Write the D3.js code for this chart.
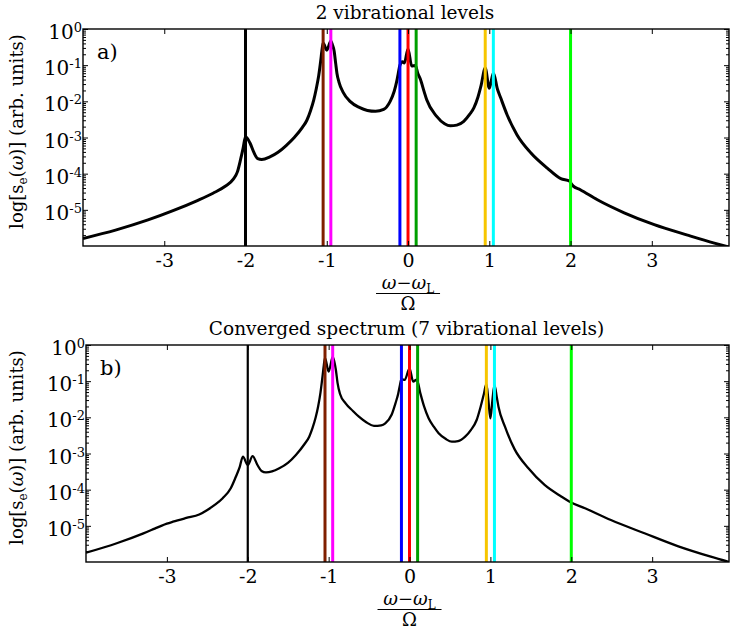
<!DOCTYPE html>
<html><head><meta charset="utf-8">
<script src="https://cdn.jsdelivr.net/npm/d3@7"></script>
<style>
body{margin:0;background:#fff}
svg{display:block}
</style>
</head><body>
<svg id="c" width="730" height="630"></svg>
<script>
// ---------- data ----------
const xTicks = [-3, -2, -1, 0, 1, 2, 3];
const yTicks = [1, 1e-1, 1e-2, 1e-3, 1e-4, 1e-5];
const yTickExp = ["0", "-1", "-2", "-3", "-4", "-5"];
const lineX = [-2, -1.045, -0.95, -0.1, 0, 0.1, 0.95, 1.05, 2];
const lineColors = ["#000000", "#7f1f00", "#ff00ff", "#0000ff", "#ff0000", "#00a000", "#f7c600", "#00ffff", "#00ff00"];
const titles = ["2 vibrational levels", "Converged spectrum (7 vibrational levels)"];
const panelTags = ["a)", "b)"];

// panel a: 2 vibrational levels
const xA = [-4.0, -3.6, -3.2, -2.9, -2.6, -2.4, -2.25, -2.15, -2.1, -2.06, -2.03, -2.0,
  -1.945, -1.9, -1.85, -1.8, -1.7, -1.6, -1.5, -1.4, -1.3, -1.245, -1.2, -1.16, -1.13, -1.1, -1.075, -1.06, -1.045,
  -1.0, -0.95, -0.93, -0.91, -0.89, -0.875, -0.85, -0.8, -0.71, -0.6, -0.5, -0.4, -0.3,
  -0.22, -0.17, -0.14, -0.12, -0.1, -0.07, -0.045, 0.0, 0.045, 0.09, 0.12, 0.15, 0.2, 0.23,
  0.35, 0.45, 0.52, 0.6, 0.686, 0.76, 0.81, 0.86, 0.9, 0.95, 1.0, 1.05, 1.1, 1.14, 1.22, 1.34,
  1.51, 1.71, 1.88, 1.99, 2.01, 2.03, 2.12, 2.33, 2.66, 3.03, 3.44, 3.77, 3.95];
const yA = [1.62e-6, 2.75e-6, 5.25e-6, 9.33e-6, 1.78e-5, 2.88e-5, 4.47e-5, 7.08e-5, 1.12e-4, 2.51e-4, 5.0e-4, 1.05e-3,
  7.05e-4, 4.0e-4, 2.6e-4, 2.45e-4, 2.9e-4, 3.9e-4, 6.0e-4, 1.0e-3, 1.9e-3, 3.0e-3, 5.5e-3, 1.1e-2, 2.2e-2, 5.0e-2, 0.13, 0.25, 0.41,
  0.26, 0.466, 0.36, 0.25, 0.11, 0.06, 0.034, 0.018, 9.8e-3, 6.8e-3, 5.6e-3, 5.3e-3, 6.0e-3,
  1.0e-2, 1.9e-2, 3.5e-2, 6.0e-2, 0.1, 0.125, 0.115, 0.28, 0.095, 0.098, 0.06, 0.042, 0.018, 0.011,
  3.9e-3, 2.4e-3, 2.1e-3, 2.2e-3, 2.8e-3, 4.4e-3, 6.6e-3, 1.3e-2, 2.8e-2, 0.0835, 0.023, 0.0608, 0.022, 0.0125, 4.2e-3, 1.2e-3,
  3.8e-4, 1.45e-4, 7.3e-5, 6.2e-5, 5.2e-5, 4.6e-5, 3.6e-5, 1.9e-5, 8.3e-6, 3.9e-6, 2.0e-6, 1.2e-6, 9.3e-7];

// panel b: converged spectrum (7 vibrational levels)
const xB = [-4.0, -3.62, -3.29, -3.15, -3.07, -3.0, -2.925, -2.76, -2.6, -2.5, -2.4, -2.31, -2.21, -2.15, -2.1, -2.06, -2.0, -1.94, -1.88,
  -1.83, -1.775, -1.7, -1.61, -1.5, -1.405, -1.3, -1.24, -1.2, -1.16, -1.13, -1.1, -1.075, -1.06, -1.045,
  -1.0, -0.95, -0.93, -0.91, -0.89, -0.86, -0.79, -0.7, -0.626, -0.53, -0.44, -0.35, -0.3,
  -0.22, -0.174, -0.14, -0.12, -0.1, -0.06, 0.0, 0.045, 0.09, 0.134, 0.18, 0.236, 0.3, 0.36,
  0.45, 0.523, 0.6, 0.688, 0.76, 0.83, 0.88, 0.92, 0.95, 0.975, 1.0, 1.025, 1.05, 1.08, 1.1, 1.18, 1.3,
  1.47, 1.67, 1.88, 1.98, 2.17, 2.49, 2.905, 3.315, 3.725, 3.95];
const yB = [1.8e-6, 3.3e-6, 6.2e-6, 8.4e-6, 1.0e-5, 1.15e-5, 1.3e-5, 1.65e-5, 2.05e-5, 2.75e-5, 3.9e-5, 5.8e-5, 1.1e-4, 2.2e-4, 4.2e-4, 8.2e-4, 4.81e-4, 8.5e-4, 4.81e-4,
  3.3e-4, 3.02e-4, 3.2e-4, 3.9e-4, 5.6e-4, 9.1e-4, 1.8e-3, 2.92e-3, 5.0e-3, 1.0e-2, 2.0e-2, 5.0e-2, 0.14, 0.27, 0.44,
  0.183, 0.466, 0.35, 0.2, 0.09, 0.045, 0.0244, 0.015, 0.0104, 7.2e-3, 5.8e-3, 6.0e-3, 6.84e-3,
  0.012, 0.0244, 0.045, 0.075, 0.115, 0.108, 0.224, 0.098, 0.111, 0.046, 0.02, 9.4e-3, 5.5e-3, 3.62e-3,
  2.5e-3, 2.12e-3, 2.2e-3, 2.92e-3, 4.5e-3, 8.44e-3, 0.02, 0.045, 0.0835, 0.03, 9.4e-3, 0.03, 0.0784, 0.035, 0.0197, 5.51e-3, 1.3e-3,
  3.9e-4, 1.35e-4, 6.4e-5, 4.65e-5, 3.06e-5, 1.45e-5, 6.22e-6, 2.75e-6, 1.4e-6, 1.0e-6];

// ---------- drawing ----------
const FONT = "'DejaVu Serif', 'Liberation Serif', 'Noto Serif', serif";
const svg = d3.select("#c");
const defs = svg.append("defs");
const panels = [
  {left: 83, right: 729, top: 29, bottom: 246, xs: xA, ys: yA, curveW: 3, blackW: 3},
  {left: 86, right: 729, top: 345, bottom: 562, xs: xB, ys: yB, curveW: 2.3, blackW: 2.2}
];
const minors = [];
for (let e = -6; e < 0; e++) for (let m = 2; m <= 9; m++) minors.push(m * Math.pow(10, e));

function label(g, tx, ty, size, anchor, extra) {
  return g.append("text")
    .attr("transform", `translate(${tx},${ty})${extra ? " " + extra : ""}`)
    .attr("text-anchor", anchor).attr("font-family", FONT)
    .attr("font-size", size).attr("fill", "#000");
}

panels.forEach((p, pi) => {
  const x = d3.scaleLinear().domain([-4, 3.95]).range([p.left, p.right]);
  const y = d3.scaleLog().domain([1e-6, 1]).range([p.bottom, p.top]);
  const g = svg.append("g");
  const cid = "clip" + pi;
  defs.append("clipPath").attr("id", cid).append("rect")
    .attr("x", p.left).attr("y", p.top).attr("width", p.right - p.left).attr("height", p.bottom - p.top);

  const data = p.xs.map((d, i) => [d, p.ys[i]]);
  g.append("path").datum(data).attr("clip-path", `url(#${cid})`)
    .attr("d", d3.line().x(d => x(d[0])).y(d => y(d[1])).curve(d3.curveMonotoneX))
    .attr("fill", "none").attr("stroke", "#000").attr("stroke-width", p.curveW)
    .attr("stroke-linejoin", "round");

  g.selectAll("line.v").data(lineX).join("line").attr("class", "v")
    .attr("x1", d => x(d)).attr("x2", d => x(d))
    .attr("y1", p.top).attr("y2", p.bottom)
    .attr("stroke", (d, i) => lineColors[i])
    .attr("stroke-width", (d, i) => i === 0 ? p.blackW : 3);

  const styleAxis = sel => { sel.select(".domain").remove(); sel.selectAll("line").attr("stroke", "#000").attr("stroke-width", 1); };

  // bottom
  const gb = g.append("g").attr("transform", `translate(0,${p.bottom})`)
    .call(d3.axisBottom(x).tickValues(xTicks).tickSize(-5).tickFormat(d => String(d)));
  styleAxis(gb);
  gb.attr("font-family", FONT).attr("font-size", 19);
  gb.selectAll("text").attr("y", 21).attr("dy", 0).attr("fill", "#000");
  // top
  const gt = g.append("g").attr("transform", `translate(0,${p.top})`)
    .call(d3.axisTop(x).tickValues(xTicks).tickSize(-5).tickFormat(""));
  styleAxis(gt);
  // left
  const gl = g.append("g").attr("transform", `translate(${p.left},0)`)
    .call(d3.axisLeft(y).tickValues(yTicks).tickSize(-5).tickFormat(""));
  styleAxis(gl);
  const glm = g.append("g").attr("transform", `translate(${p.left},0)`)
    .call(d3.axisLeft(y).tickValues(minors).tickSize(-3).tickFormat(""));
  styleAxis(glm);
  // right
  const gr = g.append("g").attr("transform", `translate(${p.right},0)`)
    .call(d3.axisRight(y).tickValues(yTicks).tickSize(-5).tickFormat(""));
  styleAxis(gr);
  const grm = g.append("g").attr("transform", `translate(${p.right},0)`)
    .call(d3.axisRight(y).tickValues(minors).tickSize(-3).tickFormat(""));
  styleAxis(grm);

  // frame
  g.append("rect").attr("x", p.left).attr("y", p.top)
    .attr("width", p.right - p.left).attr("height", p.bottom - p.top)
    .attr("fill", "none").attr("stroke", "#000").attr("stroke-width", 1.4);

  // y tick labels 10^k
  yTicks.forEach((v, i) => {
    const t = label(g, p.left - 1, y(v) + 10, 20, "end");
    t.append("tspan").text("10");
    t.append("tspan").attr("dy", -7).attr("font-size", 13).text(yTickExp[i]);
  });

  // y axis label
  const cy = (p.top + p.bottom) / 2 - 6;
  const yl = label(g, 23, cy, 18, "middle", "rotate(-90)");
  yl.append("tspan").text("log[s");
  yl.append("tspan").attr("dy", 4).attr("font-size", 12).text("e");
  yl.append("tspan").attr("dy", -4).text("(");
  yl.append("tspan").attr("font-style", "italic").text("ω");
  yl.append("tspan").text(")] (arb. units)");

  // title
  label(g, (p.left + p.right) / 2 - 1, p.top - 10, 18.5, "middle").text(titles[pi]);

  // panel tag
  label(g, p.left + 14, p.top + 30, 21, "start").text(panelTags[pi]);

  // x axis label (fraction)
  const cx = x(0);
  const num = label(g, cx, p.bottom + 43, 18, "middle");
  num.append("tspan").attr("font-style", "italic").text("ω");
  num.append("tspan").text("\u2212");
  num.append("tspan").attr("font-style", "italic").text("ω");
  num.append("tspan").attr("dy", 4).attr("font-size", 12).text("L");
  g.append("line").attr("x1", cx - 32).attr("x2", cx + 32)
    .attr("y1", p.bottom + 47.5).attr("y2", p.bottom + 47.5)
    .attr("stroke", "#000").attr("stroke-width", 1.2);
  label(g, cx, p.bottom + 64, 18, "middle").text("Ω");
});
</script>
</body></html>
